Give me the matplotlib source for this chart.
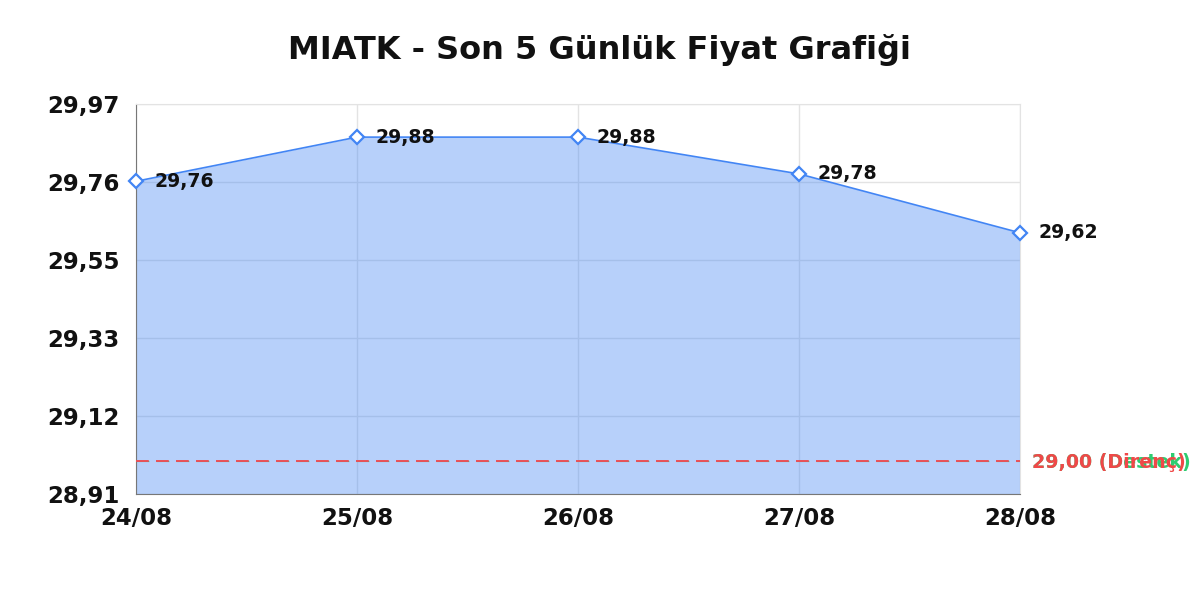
import matplotlib
matplotlib.use("Agg")
import matplotlib.pyplot as plt
import numpy as np

dates = ["24/08", "25/08", "26/08", "27/08", "28/08"]
prices = [29.76, 29.88, 29.88, 29.78, 29.62]
support = 29.00
resistance = 29.00
y_min, y_max = 28.91, 29.97
title = "MIATK - Son 5 Günlük Fiyat Grafiği"

plt.rcParams['font.family'] = ['DejaVu Sans']
plt.rcParams['lines.scale_dashes'] = False
fig = plt.figure(figsize=(12, 6), dpi=100)
ax = fig.add_axes([136/1200, 106/600, (1020-136)/1200, (494-104)/600])

x = np.arange(len(dates))
blue = "#4285f4"
ax.fill_between(x, prices, y_min, color=blue, alpha=0.38, linewidth=0, zorder=2)
ax.plot(x, prices, color=blue, linewidth=1.2, zorder=3)
ax.plot(x, prices, linestyle="none", marker="D", markersize=7, markerfacecolor="white",
        markeredgecolor=blue, markeredgewidth=1.6, zorder=4, clip_on=False)

for xi, p in zip(x, prices):
    ax.annotate(f"{p:.2f}".replace(".", ","), (xi, p), xytext=(13, 0), textcoords="offset points",
                ha="left", va="center", fontsize=13.6, fontweight="bold", color="#111111", zorder=5,
                annotation_clip=False)

dash = (0, (9.2, 5.2))
ax.axhline(support, color="#2ecc71", linestyle=dash, linewidth=0.8, zorder=2.5)
ax.axhline(resistance, color="#ea5058", linestyle=dash, linewidth=1.4, zorder=3)
ax.annotate(f"{support:.2f}".replace(".", ",") + " (Destek)", (1, support), xycoords=("axes fraction", "data"),
            xytext=(9, -1.5), textcoords="offset points", ha="left", va="center",
            fontsize=13.7, fontweight="bold", color="#2ecc71", annotation_clip=False, zorder=6)
ax.annotate(f"{resistance:.2f}".replace(".", ",") + " (Direnç)", (1, resistance), xycoords=("axes fraction", "data"),
            xytext=(9, -1.5), textcoords="offset points", ha="left", va="center",
            fontsize=13.7, fontweight="bold", color="#f04848", annotation_clip=False, zorder=7)

ax.set_xlim(0, len(dates) - 1)
ax.set_ylim(y_min, y_max)
yt = np.linspace(y_min, y_max, 6)
ax.set_yticks(yt)
ax.set_yticklabels([f"{v:.2f}".replace(".", ",") for v in yt])
ax.set_xticks(x)
ax.set_xticklabels(dates)
for lab in ax.get_xticklabels() + ax.get_yticklabels():
    lab.set_fontweight("bold")
    lab.set_fontsize(16.5)
    lab.set_color("#111111")
ax.tick_params(length=0)
ax.tick_params(axis="y", pad=12)
ax.tick_params(axis="x", pad=9.5)

ax.grid(True, color="#e3e3e3", linewidth=1, zorder=1)
ax.set_axisbelow(True)
ax.spines["top"].set_color("#e3e3e3")
ax.spines["right"].set_color("#e3e3e3")
ax.spines["left"].set_color("#777777")
ax.spines["bottom"].set_color("#777777")

fig.text(0.5, 1 - 59/600, title, fontsize=23, fontweight="bold", ha="center", va="baseline", color="#111111")
fig.savefig("out.png", dpi=100)
